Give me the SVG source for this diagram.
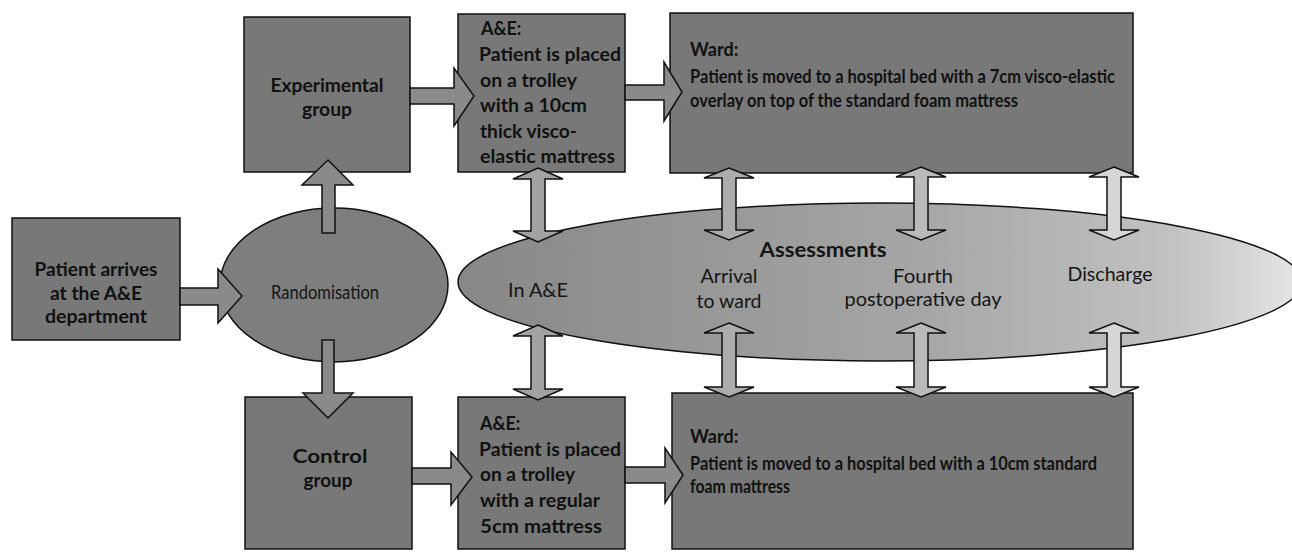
<svg xmlns="http://www.w3.org/2000/svg" width="1292" height="552" viewBox="0 0 1292 552">
<defs>
<linearGradient id="assessGrad" x1="0" y1="0" x2="1" y2="0">
<stop offset="0" stop-color="#878787"/>
<stop offset="0.55" stop-color="#a6a6a6"/>
<stop offset="0.85" stop-color="#c2c2c2"/>
<stop offset="1" stop-color="#e6e6e6"/>
</linearGradient>
</defs>
<style>
.box{fill:#787878;stroke:#111;stroke-width:1.5}
.ell{fill:#7e7e7e;stroke:#111;stroke-width:1.5}
.harrow{fill:#8a8a8a;stroke:#111;stroke-width:1.5;stroke-linejoin:miter}
.varrow{stroke:#111;stroke-width:1.5;stroke-linejoin:miter}
.bt{font-family:Lato,"Open Sans","Liberation Sans",sans-serif;font-size:18px;font-weight:bold;fill:#111}
.at{font-family:Lato,"Open Sans","Liberation Sans",sans-serif;font-size:19px;fill:#151515}
.ah{font-family:Lato,"Open Sans","Liberation Sans",sans-serif;font-size:20px;font-weight:bold;fill:#151515}
.c{text-anchor:middle}
</style>
<rect width="1292" height="552" fill="#ffffff"/>

<g id="patient">
<rect class="box" x="12" y="218" width="168" height="122"/>
<text class="bt c" x="96" y="276" textLength="123" lengthAdjust="spacingAndGlyphs">Patient arrives</text>
<text class="bt c" x="96" y="300" textLength="92" lengthAdjust="spacingAndGlyphs">at the A&amp;E</text>
<text class="bt c" x="96" y="323" textLength="102" lengthAdjust="spacingAndGlyphs">department</text>
</g>

<g id="randomisation">
<ellipse class="ell" cx="334" cy="285" rx="114" ry="77"/>
<text class="at c" x="325" y="299" textLength="108" lengthAdjust="spacingAndGlyphs">Randomisation</text>
</g>

<g id="experimental">
<rect class="box" x="244" y="17" width="166" height="155"/>
<text class="bt c" x="327" y="92" textLength="113" lengthAdjust="spacingAndGlyphs">Experimental</text>
<text class="bt c" x="327" y="116" textLength="50" lengthAdjust="spacingAndGlyphs">group</text>
</g>

<g id="control">
<rect class="box" x="245" y="397" width="167" height="152"/>
<text class="bt c" x="330" y="463" textLength="75" lengthAdjust="spacingAndGlyphs">Control</text>
<text class="bt c" x="328" y="487" textLength="49" lengthAdjust="spacingAndGlyphs">group</text>
</g>

<g id="ae-top">
<rect class="box" x="458" y="14" width="167" height="158"/>
<text class="bt" x="481" y="35">A&amp;E:</text>
<text class="bt" x="479" y="61" textLength="142" lengthAdjust="spacingAndGlyphs">Patient is placed</text>
<text class="bt" x="480" y="87" textLength="97" lengthAdjust="spacingAndGlyphs">on a trolley</text>
<text class="bt" x="480" y="112" textLength="107" lengthAdjust="spacingAndGlyphs">with a 10cm</text>
<text class="bt" x="480" y="138" textLength="97" lengthAdjust="spacingAndGlyphs">thick visco-</text>
<text class="bt" x="480" y="163" textLength="135" lengthAdjust="spacingAndGlyphs">elastic mattress</text>
</g>

<g id="ae-bottom">
<rect class="box" x="458" y="397" width="167" height="152"/>
<text class="bt" x="480" y="430">A&amp;E:</text>
<text class="bt" x="479" y="456" textLength="142" lengthAdjust="spacingAndGlyphs">Patient is placed</text>
<text class="bt" x="480" y="481" textLength="95" lengthAdjust="spacingAndGlyphs">on a trolley</text>
<text class="bt" x="480" y="507" textLength="120" lengthAdjust="spacingAndGlyphs">with a regular</text>
<text class="bt" x="480" y="533" textLength="122" lengthAdjust="spacingAndGlyphs">5cm mattress</text>
</g>

<g id="ward-top">
<rect class="box" x="670" y="13" width="463" height="160"/>
<text class="bt" x="690" y="56">Ward:</text>
<text class="bt" x="690" y="83" textLength="425" lengthAdjust="spacingAndGlyphs">Patient is moved to a hospital bed with a 7cm visco-elastic</text>
<text class="bt" x="690" y="107" textLength="328" lengthAdjust="spacingAndGlyphs">overlay on top of the standard foam mattress</text>
</g>

<g id="ward-bottom">
<rect class="box" x="672" y="393" width="461" height="156"/>
<text class="bt" x="690" y="443">Ward:</text>
<text class="bt" x="690" y="470" textLength="407" lengthAdjust="spacingAndGlyphs">Patient is moved to a hospital bed with a 10cm standard</text>
<text class="bt" x="690" y="493" textLength="100" lengthAdjust="spacingAndGlyphs">foam mattress</text>
</g>

<g id="assessments">
<ellipse cx="880" cy="282" rx="422" ry="79" fill="url(#assessGrad)" stroke="#111" stroke-width="1.5"/>
<text class="ah c" x="823" y="257" textLength="127" lengthAdjust="spacingAndGlyphs">Assessments</text>
<text class="at" x="508" y="297" textLength="60" lengthAdjust="spacingAndGlyphs">In A&amp;E</text>
<text class="at c" x="729" y="283" textLength="57" lengthAdjust="spacingAndGlyphs">Arrival</text>
<text class="at c" x="729" y="308" textLength="65" lengthAdjust="spacingAndGlyphs">to ward</text>
<text class="at c" x="923" y="283" textLength="60" lengthAdjust="spacingAndGlyphs">Fourth</text>
<text class="at c" x="923" y="306" textLength="157" lengthAdjust="spacingAndGlyphs">postoperative day</text>
<text class="at c" x="1110" y="281" textLength="85" lengthAdjust="spacingAndGlyphs">Discharge</text>
</g>

<g id="connectors">
<path class="harrow" d="M180,288 L218,288 L218,269 L242,296 L218,323 L218,305 L180,305 Z"/>
<path class="harrow" d="M410,88 L454,88 L454,68 L474,96 L454,126 L454,104 L410,104 Z"/>
<path class="harrow" d="M625,85 L664,85 L664,62 L682,92 L664,121 L664,100 L625,100 Z"/>
<path class="harrow" d="M412,468 L451,468 L451,452 L472,477 L451,505 L451,484 L412,484 Z"/>
<path class="harrow" d="M625,467 L665,467 L665,448 L683,475 L665,503 L665,483 L625,483 Z"/>
<path class="harrow" d="M322,233 L322,185 L302,185 L328,160 L353,185 L335,185 L335,233 Z"/>
<path class="harrow" d="M322,340 L322,393 L303,393 L328,418 L353,393 L334,393 L334,340 Z"/>
<path class="varrow" fill="#a2a2a2" d="M538,168 L563,179 L545,179 L545,231 L563,231 L538,242 L513,231 L531,231 L531,179 L513,179 Z"/>
<path class="varrow" fill="#a2a2a2" d="M538,325 L563,336 L545,336 L545,389 L563,389 L538,400 L513,389 L531,389 L531,336 L513,336 Z"/>
<path class="varrow" fill="#acacac" d="M729,168 L754,178 L736,178 L736,230 L754,230 L729,240 L704,230 L722,230 L722,178 L704,178 Z"/>
<path class="varrow" fill="#acacac" d="M729,323 L754,333 L736,333 L736,387 L754,387 L729,397 L704,387 L722,387 L722,333 L704,333 Z"/>
<path class="varrow" fill="#bababa" d="M921,167 L946,177 L928,177 L928,230 L946,230 L921,240 L896,230 L914,230 L914,177 L896,177 Z"/>
<path class="varrow" fill="#bababa" d="M921,323 L946,333 L928,333 L928,387 L946,387 L921,397 L896,387 L914,387 L914,333 L896,333 Z"/>
<path class="varrow" fill="#d6d6d6" d="M1114,167 L1139,177 L1121,177 L1121,230 L1139,230 L1114,240 L1089,230 L1107,230 L1107,177 L1089,177 Z"/>
<path class="varrow" fill="#d6d6d6" d="M1114,323 L1139,333 L1121,333 L1121,387 L1139,387 L1114,397 L1089,387 L1107,387 L1107,333 L1089,333 Z"/>
</g>
</svg>
